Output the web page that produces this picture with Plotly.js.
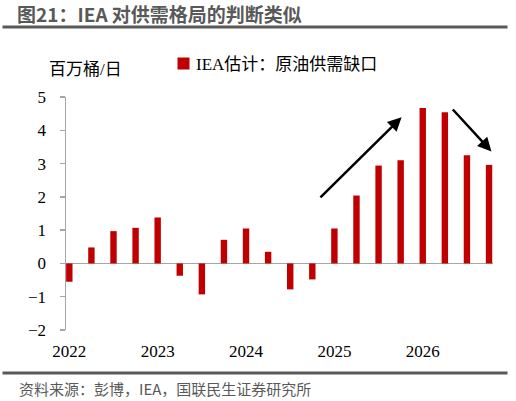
<!DOCTYPE html>
<html>
<head>
<meta charset="utf-8">
<script src="https://cdn.plot.ly/plotly-3.0.1.min.js"></script>
<style>
  html, body { margin: 0; padding: 0; background: #fff; }
  #chart { width: 516px; height: 401px; }
</style>
</head>
<body>
<div id="chart"></div>
<script>
// quarterly supply-demand gap estimated by IEA (million barrels / day)
var quarters = [
    '2022Q1', '2022Q2', '2022Q3', '2022Q4',
    '2023Q1', '2023Q2', '2023Q3', '2023Q4',
    '2024Q1', '2024Q2', '2024Q3', '2024Q4',
    '2025Q1', '2025Q2', '2025Q3', '2025Q4',
    '2026Q1', '2026Q2', '2026Q3', '2026Q4'
];
var gapValues = [
    -0.55, 0.48, 0.97, 1.07,
    1.38, -0.37, -0.93, 0.71,
    1.05, 0.35, -0.78, -0.48,
    1.05, 2.04, 2.94, 3.10,
    4.67, 4.54, 3.25, 2.96
];
var yearTicks = [ '2022Q1', '2023Q1', '2024Q1', '2025Q1', '2026Q1' ];
var yearLabels = [ '2022', '2023', '2024', '2025', '2026' ];

var seriesName = 'IEA估计：原油供需缺口';
var unitLabel = '百万桶/日';
var chartTitle = '图21：IEA 对供需格局的判断类似';
var sourceNote = '资料来源：彭博，IEA，国联民生证券研究所';

var serif = 'Liberation Serif, Times New Roman, Noto Sans CJK SC, serif';
var sans = 'Noto Sans CJK SC, Noto Sans, sans-serif';
var barRed = '#C00000';
var axisGray = '#A6A6A6';
var textGray = '#595959';

var trace = {
    x: quarters,
    y: gapValues,
    type: 'bar',
    name: seriesName,
    width: 0.29,
    marker: { color: barRed },
    hoverinfo: 'x+y'
};

// thin filled box used as a horizontal rule across the page
function ruleBox( y ) {
    return { text: '&nbsp;', xref: 'paper', yref: 'paper',
             x: 0.4427, y: y, xanchor: 'center', yanchor: 'middle',
             width: 504, height: 2, borderpad: 0, bgcolor: textGray,
             showarrow: false, font: { size: 1, color: textGray } };
}

var layout = {
    width: 516,
    height: 401,
    margin: { l: 66, r: 23, t: 97, b: 71 },
    paper_bgcolor: '#ffffff',
    plot_bgcolor: '#ffffff',
    showlegend: false,
    title: {
        text: '<b>' + chartTitle + '</b>',
        font: { family: sans, size: 19, color: textGray },
        x: 17 / 516,
        xanchor: 'left',
        xref: 'container',
        y: 1 - 15 / 401,
        yanchor: 'middle',
        yref: 'container'
    },
    xaxis: {
        type: 'category',
        range: [ -0.15, 19.18 ],
        tickvals: yearTicks,
        ticktext: yearLabels,
        tickangle: 0,
        ticks: '',
        showline: false,
        showgrid: false,
        zeroline: false,
        ticklabelstandoff: 9,
        tickfont: { family: serif, size: 17, color: '#000000' },
        fixedrange: true
    },
    yaxis: {
        range: [ -2, 5 ],
        dtick: 1,
        ticks: 'outside',
        ticklen: 5,
        tickwidth: 1.5,
        tickcolor: axisGray,
        showline: true,
        linecolor: axisGray,
        linewidth: 1.5,
        showgrid: false,
        zeroline: true,
        zerolinecolor: axisGray,
        zerolinewidth: 1.5,
        ticklabelstandoff: 10,
        tickfont: { family: serif, size: 17, color: '#000000' },
        fixedrange: true
    },
    annotations: [
        ruleBox( 1.3005 ),
        ruleBox( -0.1825 ),
        { text: unitLabel, xref: 'paper', yref: 'paper',
          x: 0.046, y: 1.117, xanchor: 'center', yanchor: 'middle',
          showarrow: false, font: { family: serif, size: 17, color: '#000000' } },
        // legend: red key square and series name
        { text: '&nbsp;', xref: 'paper', yref: 'paper',
          x: 0.2762, y: 1.143, xanchor: 'center', yanchor: 'middle',
          width: 11, height: 11, borderpad: 0, bgcolor: barRed,
          showarrow: false, font: { size: 2, color: barRed } },
        { text: seriesName, xref: 'paper', yref: 'paper',
          x: 0.2996, y: 1.1388, xanchor: 'left', yanchor: 'middle',
          showarrow: false, font: { family: serif, size: 17, color: '#000000' } },
        { text: sourceNote, xref: 'paper', yref: 'paper',
          x: -0.1147, y: -0.249, xanchor: 'left', yanchor: 'middle',
          showarrow: false, font: { family: sans, size: 15, color: textGray } },
        // rising trend arrow
        { x: 15.04, y: 4.39, ax: 11.3, ay: 1.94, xref: 'x', yref: 'y',
          axref: 'x', ayref: 'y', text: '', showarrow: true,
          arrowhead: 2, arrowsize: 1.1, arrowwidth: 2.5, arrowcolor: '#000000' },
        // falling trend arrow
        { x: 19.11, y: 3.36, ax: 17.3, ay: 4.67, xref: 'x', yref: 'y',
          axref: 'x', ayref: 'y', text: '', showarrow: true,
          arrowhead: 2, arrowsize: 1.1, arrowwidth: 2.5, arrowcolor: '#000000' }
    ]
};

Plotly.newPlot( 'chart', [ trace ], layout, { displayModeBar: false, staticPlot: true } );
</script>
</body>
</html>
